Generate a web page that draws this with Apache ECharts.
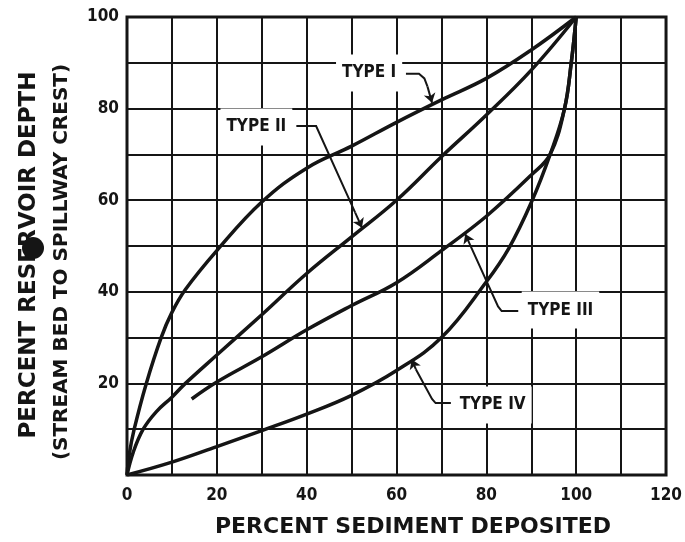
<!DOCTYPE html>
<html>
<head>
<meta charset="utf-8">
<title>Percent sediment deposited vs reservoir depth</title>
<script src="https://cdn.jsdelivr.net/npm/echarts@6/dist/echarts.min.js"></script>
<style>
  html, body { margin: 0; padding: 0; background: #fff; }
  #chart { width: 685px; height: 542px; }
</style>
</head>
<body>
<div id="chart"></div>
<script>
// curves: [percent sediment deposited, percent depth]
var typeI = [[0, 0], [0.5, 4.5], [1.6, 10], [4.3, 20], [7.6, 30], [10, 35.5], [13, 40.5], [20, 49], [30, 59.6], [40, 67], [50, 71.8], [60, 77], [70, 81.9], [80, 86.6], [90, 92.8], [100, 100]];
var typeII = [[0, 0], [1.4, 5], [3.6, 10], [6.5, 13.8], [10, 17], [13, 20], [20, 26.2], [30, 35], [40, 44], [50, 52], [60, 60], [70, 69.5], [80, 78.6], [90, 88.4], [100, 100]];
var typeIII = [[14.4, 16.6], [20, 20.3], [30, 25.8], [40, 31.7], [50, 37], [60, 42], [70, 49], [80, 56.5], [90, 65.5], [94.2, 70], [97.4, 80], [98.9, 90], [100, 100]];
var typeIV = [[0, 0], [10, 2.8], [20, 6.2], [30, 9.7], [40, 13.3], [50, 17.4], [60, 22.8], [70, 30], [80, 42.2], [85, 49.5], [90, 59.5], [94.2, 70], [97.4, 80], [98.9, 90], [100, 100]];

// tick labels
var xLabels = [0, 20, 40, 60, 80, 100, 120];
var yLabels = [20, 40, 60, 80, 100];

// curve annotations (data coords)
var typeNames = ['TYPE I', 'TYPE II', 'TYPE III', 'TYPE IV'];
var typeNamePos = [[53.9, 87.8], [28.8, 76.0], [96.5, 36.0], [81.4, 15.3]];
var leaders = [
  [[62.1, 87.6], [65.0, 87.6], [66.2, 86.6], [66.9, 84.8]],
  [[37.7, 76.2], [42.1, 76.2], [50.8, 57.3]],
  [[87.1, 35.8], [83.4, 35.8], [82.6, 36.8], [76.4, 50.2]],
  [[72.1, 15.7], [68.7, 15.7], [67.9, 16.6], [64.3, 23.1]]
];
var arrows = [
  [[66.9, 84.8], [67.9, 81.3]],
  [[50.8, 57.3], [52.3, 54.0]],
  [[76.4, 50.2], [75.3, 52.6]],
  [[64.3, 23.1], [63.4, 25.2]]
];

var INK = '#151515';
var FONT = '"DejaVu Sans Condensed", "DejaVu Sans", sans-serif';
var TITLE_FONT = '"DejaVu Sans", sans-serif';

function curve(name, data) {
  return {
    name: name,
    type: 'line',
    data: data,
    smooth: 0.4,
    showSymbol: false,
    symbol: 'none',
    z: 3,
    lineStyle: { color: INK, width: 3.5 }
  };
}

var chart = echarts.init(document.getElementById('chart'));
chart.setOption({
  backgroundColor: '#fff',
  animation: false,
  grid: {
    left: 127, right: 17, top: 17, bottom: 67,
    show: true, borderColor: INK, borderWidth: 3
  },
  xAxis: {
    type: 'value', min: 0, max: 120, interval: 10,
    axisLine: { show: false },
    axisTick: { show: false },
    axisLabel: {
      margin: 12, color: INK, fontSize: 17, fontWeight: 'bold', fontFamily: FONT,
      formatter: function (v) { return xLabels.indexOf(v) >= 0 ? String(v) : ''; }
    },
    splitLine: { show: true, lineStyle: { color: INK, width: 2 } }
  },
  yAxis: {
    type: 'value', min: 0, max: 100, interval: 10,
    axisLine: { show: false },
    axisTick: { show: false },
    axisLabel: {
      margin: 8, color: INK, fontSize: 17, fontWeight: 'bold', fontFamily: FONT,
      formatter: function (v) { return yLabels.indexOf(v) >= 0 ? String(v) : ''; }
    },
    splitLine: { show: true, lineStyle: { color: INK, width: 2 } }
  },
  graphic: [
    {
      type: 'text', x: 413, y: 527,
      style: {
        text: 'PERCENT SEDIMENT DEPOSITED', fill: INK,
        fontSize: 22, fontWeight: 'bold', fontFamily: TITLE_FONT,
        textAlign: 'center', textVerticalAlign: 'middle', align: 'center', verticalAlign: 'middle'
      }
    },
    {
      type: 'text', x: 29, y: 255, rotation: Math.PI / 2,
      style: {
        text: 'PERCENT RESERVOIR DEPTH', fill: INK,
        fontSize: 23, fontWeight: 'bold', fontFamily: TITLE_FONT,
        textAlign: 'center', textVerticalAlign: 'middle', align: 'center', verticalAlign: 'middle'
      }
    },
    {
      type: 'text', x: 62, y: 262, rotation: Math.PI / 2,
      style: {
        text: '(STREAM BED TO SPILLWAY CREST)', fill: INK,
        fontSize: 20, fontWeight: 'bold', fontFamily: TITLE_FONT,
        textAlign: 'center', textVerticalAlign: 'middle', align: 'center', verticalAlign: 'middle'
      }
    },
    // ink blot on the scan
    { type: 'circle', shape: { cx: 33, cy: 248, r: 11 }, style: { fill: INK } }
  ],
  series: [
    curve('TYPE I', typeI),
    curve('TYPE II', typeII),
    curve('TYPE III', typeIII),
    curve('TYPE IV', typeIV),
    {
      type: 'scatter',
      z: 1,
      symbolSize: 1,
      silent: true,
      itemStyle: { color: '#fff' },
      data: typeNames.map(function (n, i) { return { name: n, value: typeNamePos[i] }; }),
      label: {
        show: true, position: 'inside', formatter: '{b}',
        color: INK, fontSize: 17, fontWeight: 'bold', fontFamily: FONT,
        textBorderWidth: 0, opacity: 1,
        backgroundColor: '#fff', padding: [10, 6, 10, 6]
      }
    },
    {
      type: 'lines',
      coordinateSystem: 'cartesian2d',
      polyline: true,
      z: 4,
      silent: true,
      lineStyle: { color: INK, width: 2, opacity: 1 },
      data: leaders.map(function (c) { return { coords: c }; })
    },
    {
      type: 'lines',
      coordinateSystem: 'cartesian2d',
      z: 4,
      silent: true,
      symbol: ['none', 'arrow'],
      symbolSize: 9,
      lineStyle: { color: INK, width: 2, opacity: 1 },
      data: arrows.map(function (c) { return { coords: c }; })
    }
  ]
});
</script>
</body>
</html>
